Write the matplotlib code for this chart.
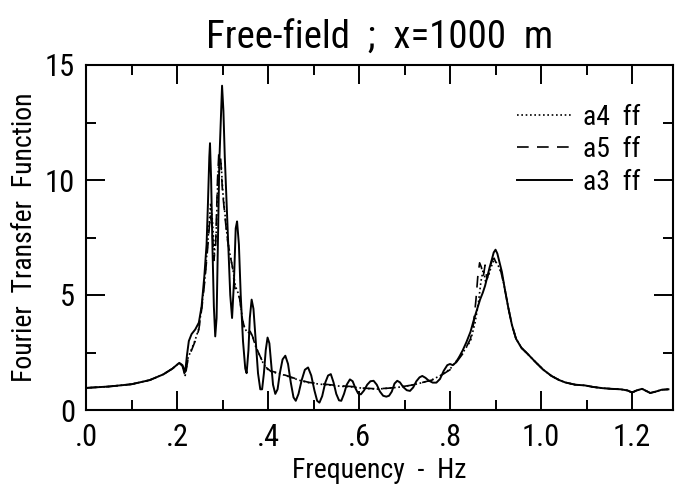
import matplotlib
matplotlib.use("Agg")
import matplotlib.pyplot as plt
from matplotlib.ticker import MultipleLocator, FixedLocator, FixedFormatter

plt.rcParams['font.family'] = ['Roboto Condensed', 'DejaVu Sans']
plt.rcParams['font.weight'] = 'light'

# ---- data ----
f_a3 = [0.00, 0.05, 0.10, 0.14, 0.17, 0.19, 0.205, 0.212, 0.218, 0.222, 0.226, 0.232, 0.240, 0.248,
        0.254, 0.260, 0.265, 0.268, 0.271, 0.2725, 0.275, 0.278, 0.281, 0.284, 0.287, 0.290, 0.293,
        0.296, 0.299, 0.302, 0.305, 0.309, 0.313, 0.317, 0.321, 0.325, 0.329, 0.332, 0.336, 0.340,
        0.345, 0.350, 0.353, 0.357, 0.360, 0.364, 0.368, 0.373, 0.378, 0.383, 0.387, 0.391, 0.395,
        0.399, 0.403, 0.407, 0.411, 0.416, 0.421, 0.426, 0.432, 0.438, 0.444, 0.450, 0.456, 0.461,
        0.467, 0.474, 0.481, 0.488, 0.495, 0.502, 0.508, 0.513, 0.519, 0.526, 0.532, 0.538, 0.544,
        0.550, 0.556, 0.561, 0.567, 0.573, 0.580, 0.586, 0.592, 0.598, 0.604, 0.611, 0.618, 0.625,
        0.632, 0.639, 0.646, 0.653, 0.660, 0.666, 0.672, 0.678, 0.684, 0.690, 0.697, 0.705, 0.712,
        0.719, 0.726, 0.733, 0.739, 0.746, 0.753, 0.762, 0.770, 0.778, 0.786, 0.794, 0.800, 0.806,
        0.812, 0.820, 0.828, 0.836, 0.845, 0.852, 0.859, 0.866, 0.872, 0.877, 0.882, 0.887, 0.892,
        0.896, 0.900, 0.904, 0.909, 0.914, 0.920, 0.928, 0.936, 0.945, 0.957, 0.970, 0.987, 1.005,
        1.023, 1.040, 1.053, 1.075, 1.096, 1.115, 1.135, 1.155, 1.175, 1.190, 1.200, 1.210, 1.222,
        1.232, 1.240, 1.252, 1.265, 1.280]
v_a3 = [0.96, 1.02, 1.12, 1.30, 1.55, 1.80, 2.05, 1.95, 1.65, 2.40, 3.00, 3.30, 3.50, 3.80,
        4.50, 5.80, 7.20, 9.00, 11.0, 11.6, 10.0, 7.00, 4.50, 3.20, 4.00, 7.50, 10.8,
        12.5, 14.1, 13.0, 11.0, 9.00, 7.00, 5.00, 4.00, 5.50, 7.90, 8.20, 7.20, 5.00,
        3.00, 1.80, 1.60, 2.60, 4.00, 4.80, 4.40, 3.00, 1.60, 0.90, 0.90, 1.60, 2.60,
        3.15, 2.90, 2.00, 1.10, 0.70, 0.90, 1.60, 2.20, 2.36, 2.00, 1.20, 0.55, 0.40,
        0.70, 1.30, 1.75, 1.85, 1.50, 0.85, 0.40, 0.32, 0.60, 1.20, 1.50, 1.56, 1.20,
        0.70, 0.42, 0.40, 0.70, 1.10, 1.33, 1.25, 0.95, 0.72, 0.68, 0.85, 1.10, 1.25,
        1.27, 1.10, 0.80, 0.62, 0.58, 0.62, 0.80, 1.15, 1.27, 1.20, 1.00, 0.86, 0.83,
        0.98, 1.25, 1.42, 1.48, 1.40, 1.28, 1.19, 1.19, 1.35, 1.70, 1.95, 2.00, 1.95,
        2.05, 2.30, 2.60, 2.95, 3.40, 3.90, 4.35, 4.80, 5.10, 5.40, 5.80, 6.20, 6.55,
        6.85, 6.97, 6.80, 6.40, 6.00, 5.30, 4.45, 3.70, 3.10, 2.70, 2.45, 2.10, 1.75,
        1.48, 1.30, 1.20, 1.10, 1.07, 1.00, 0.95, 0.92, 0.90, 0.85, 0.76, 0.85, 0.92,
        0.82, 0.74, 0.80, 0.88, 0.90]

f_a5 = [0.00, 0.05, 0.10, 0.14, 0.17, 0.19, 0.205, 0.212, 0.218, 0.224, 0.232, 0.240, 0.248, 0.255,
        0.262, 0.268, 0.273, 0.277, 0.281, 0.285, 0.289, 0.292, 0.296, 0.300, 0.305, 0.310, 0.316,
        0.322, 0.327, 0.333, 0.338, 0.343, 0.348, 0.354, 0.360, 0.366, 0.372, 0.380, 0.388, 0.396,
        0.405, 0.415, 0.425, 0.440, 0.455, 0.470, 0.490, 0.510, 0.535, 0.560, 0.585, 0.610, 0.640,
        0.665, 0.690, 0.715, 0.740, 0.760, 0.780, 0.800, 0.815, 0.830, 0.845, 0.852, 0.857, 0.861,
        0.865, 0.869, 0.873, 0.877, 0.881, 0.886, 0.892, 0.897, 0.901, 0.906, 0.912, 0.920, 0.928,
        0.936, 0.945, 0.957, 0.970, 0.987, 1.005, 1.023, 1.040, 1.053, 1.075, 1.096, 1.115, 1.135,
        1.155, 1.175, 1.190, 1.200, 1.210, 1.222, 1.232, 1.240, 1.252, 1.265, 1.280]
v_a5 = [0.96, 1.02, 1.12, 1.30, 1.55, 1.80, 2.05, 1.90, 1.45, 2.20, 2.60, 3.00, 3.50, 4.50,
        5.80, 7.20, 8.50, 8.00, 6.50, 7.20, 10.0, 11.2, 10.9, 9.50, 8.50, 7.50, 6.80,
        6.20, 5.30, 5.20, 4.80, 4.00, 3.60, 3.40, 3.45, 3.20, 2.80, 2.45, 2.10, 1.85,
        1.70, 1.65, 1.60, 1.50, 1.40, 1.30, 1.20, 1.15, 1.10, 1.05, 1.02, 0.95, 0.92,
        0.95, 1.00, 1.08, 1.20, 1.30, 1.50, 1.75, 2.10, 2.50, 3.10, 3.80, 4.80, 5.80,
        6.40, 6.20, 5.80, 6.30, 5.70, 6.00, 6.50, 6.60, 6.40, 6.30, 6.00, 5.30, 4.45,
        3.70, 3.10, 2.70, 2.45, 2.10, 1.75, 1.48, 1.30, 1.20, 1.10, 1.07, 1.00, 0.95,
        0.92, 0.90, 0.85, 0.76, 0.85, 0.92, 0.82, 0.74, 0.80, 0.88, 0.90]

f_a4 = [0.00, 0.05, 0.10, 0.14, 0.17, 0.19, 0.205, 0.212, 0.218, 0.224, 0.232, 0.240, 0.248, 0.255,
        0.262, 0.268, 0.274, 0.278, 0.282, 0.286, 0.290, 0.293, 0.297, 0.301, 0.306, 0.311, 0.317,
        0.323, 0.328, 0.334, 0.339, 0.344, 0.349, 0.355, 0.361, 0.367, 0.373, 0.381, 0.389, 0.397,
        0.406, 0.416, 0.426, 0.441, 0.456, 0.471, 0.491, 0.511, 0.536, 0.561, 0.586, 0.611, 0.641,
        0.666, 0.691, 0.716, 0.741, 0.761, 0.781, 0.800, 0.815, 0.830, 0.845, 0.855, 0.862, 0.868,
        0.873, 0.878, 0.884, 0.890, 0.896, 0.902, 0.908, 0.914, 0.920, 0.928,
        0.936, 0.945, 0.957, 0.970, 0.987, 1.005, 1.023, 1.040, 1.053, 1.075, 1.096, 1.115, 1.135,
        1.155, 1.175, 1.190, 1.200, 1.210, 1.222, 1.232, 1.240, 1.252, 1.265, 1.280]
v_a4 = [0.96, 1.02, 1.12, 1.30, 1.55, 1.80, 2.05, 1.90, 1.50, 2.25, 2.65, 3.05, 3.55, 4.60,
        5.90, 7.40, 9.00, 8.20, 6.80, 7.60, 10.2, 11.0, 10.7, 9.40, 8.40, 7.40, 6.70,
        6.10, 5.40, 5.10, 4.70, 3.90, 3.55, 3.35, 3.40, 3.15, 2.75, 2.40, 2.05, 1.80,
        1.68, 1.62, 1.58, 1.48, 1.38, 1.28, 1.18, 1.13, 1.08, 1.03, 1.00, 0.94, 0.91,
        0.95, 1.00, 1.08, 1.20, 1.32, 1.52, 1.78, 2.15, 2.55, 3.00, 3.80, 4.60, 5.60,
        6.10, 5.60, 5.80, 6.20, 6.50, 6.40, 6.20, 5.90, 5.30, 4.45,
        3.70, 3.10, 2.70, 2.45, 2.10, 1.75, 1.48, 1.30, 1.20, 1.10, 1.07, 1.00, 0.95,
        0.92, 0.90, 0.85, 0.76, 0.85, 0.92, 0.82, 0.74, 0.80, 0.88, 0.90]

x_ticks = [0.0, 0.2, 0.4, 0.6, 0.8, 1.0, 1.2]
x_tick_labels = ['.0', '.2', '.4', '.6', '.8', '1.0', '1.2']
y_ticks = [0, 5, 10, 15]
y_tick_labels = ['0', '5', '10', '15']

title = 'Free-field  ;  x=1000  m'
xlabel = 'Frequency  -  Hz'
ylabel = 'Fourier  Transfer  Function'
labels = ['a4  ff', 'a5  ff', 'a3  ff']

# ---- figure ----
fig = plt.figure(figsize=(6.89, 4.91), dpi=100)
ax = fig.add_axes([86/689, 1 - 410/491, (673-86)/689, (410-65)/491])

l4, = ax.plot(f_a4, v_a4, color='black', lw=1.2, dashes=(1, 1.6))
l5, = ax.plot(f_a5, v_a5, color='black', lw=1.2, dashes=(7, 5))
l3, = ax.plot(f_a3, v_a3, color='black', lw=1.4)

ax.set_xlim(0, 1.29)
ax.set_ylim(0, 15)

ax.xaxis.set_major_locator(FixedLocator(x_ticks))
ax.xaxis.set_major_formatter(FixedFormatter(x_tick_labels))
ax.xaxis.set_minor_locator(MultipleLocator(0.1))
ax.yaxis.set_major_locator(FixedLocator(y_ticks))
ax.yaxis.set_major_formatter(FixedFormatter(y_tick_labels))
ax.yaxis.set_minor_locator(MultipleLocator(2.5))

ax.tick_params(which='both', direction='in', top=True, right=True, width=1.4, color='black')
ax.tick_params(which='major', length=14, labelsize=22)
ax.tick_params(which='minor', length=7)
ax.tick_params(axis='x', which='major', pad=9)
ax.tick_params(axis='y', which='major', pad=8)
for lab in ax.get_xticklabels() + ax.get_yticklabels():
    lab.set_fontweight('normal')

for s in ax.spines.values():
    s.set_linewidth(1.5)

ax.set_title(title, fontsize=28, pad=12)
ax.set_xlabel(xlabel, fontsize=20, labelpad=4)
ax.set_ylabel(ylabel, fontsize=20, labelpad=5)

leg = ax.legend([l4, l5, l3], labels, loc='upper right', bbox_to_anchor=(0.945, 0.888),
                frameon=False, fontsize=20, handlelength=2.0, handletextpad=0.4,
                labelspacing=0.2, borderpad=0, borderaxespad=0)
for t in leg.get_texts():
    t.set_fontweight('normal')

fig.savefig('out.png', dpi=100)
